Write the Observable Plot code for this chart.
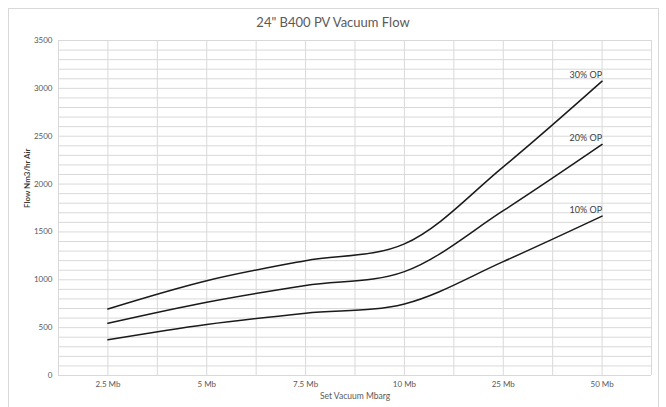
<!DOCTYPE html>
<html>
<head>
<meta charset="utf-8">
<script src="https://cdn.jsdelivr.net/npm/d3@7"></script>
<script src="https://cdn.jsdelivr.net/npm/@observablehq/plot@0.6"></script>
<style>
  html, body { margin: 0; padding: 0; background: #fff; }
  #wrap { position: relative; width: 666px; height: 407px; font-family: Lato, "Open Sans", sans-serif; }
  #frame { position: absolute; left: 8px; top: 8px; width: 651px; height: 400px; border: 1px solid #d9d9d9; box-sizing: border-box; }
  #title { position: absolute; left: 0; width: 666px; top: 14px; text-align: center; font-size: 13px; color: #595959; }
  #chart { position: absolute; left: 0; top: 0; }
</style>
</head>
<body>
<div id="wrap">
  <div id="frame"></div>
  <div id="chart"></div>
  <div id="title">24" B400 PV Vacuum Flow</div>
</div>
<script>
const categories = ["2.5 Mb", "5 Mb", "7.5 Mb", "10 Mb", "25 Mb", "50 Mb"];
const seriesNames = ["30% OP", "20% OP", "10% OP"];
const op30 = [695, 990, 1200, 1375, 2180, 3075];
const op20 = [545, 765, 940, 1085, 1722, 2414];
const op10 = [373, 533, 651, 748, 1190, 1665];
const yTicks = [0, 500, 1000, 1500, 2000, 2500, 3000, 3500];
const yGrid = d3.range(0, 3501, 100);

const seriesValues = [op30, op20, op10];
const rows = [];
seriesNames.forEach((s, k) => {
  categories.forEach((c, i) => rows.push({series: s, cat: c, pos: i + 0.5, value: seriesValues[k][i]}));
});
const lastRows = rows.filter(d => d.cat === categories[categories.length - 1]);
const xCenters = categories.map((c, i) => i + 0.5);
const xGrid = d3.range(0, categories.length + 0.01, 0.5);

const chart = Plot.plot({
  width: 666,
  height: 407,
  marginTop: 40,
  marginBottom: 32,
  marginLeft: 58,
  marginRight: 15,
  style: {fontFamily: 'Lato, "Open Sans", sans-serif', background: "transparent"},
  x: {domain: [0, categories.length], axis: null},
  y: {domain: [0, 3500], axis: null},
  marks: [
    Plot.ruleY(yGrid, {stroke: "#d9d9d9", strokeWidth: 1}),
    Plot.ruleX(xGrid, {stroke: "#d9d9d9", strokeWidth: 1}),
    Plot.axisY(yTicks, {tickSize: 0, tickPadding: 6, fontSize: 8, fill: "#595959", label: null, tickFormat: d3.format("d")}),
    Plot.axisX(xCenters, {tickSize: 0, tickPadding: 6, fontSize: 8, fill: "#595959", label: null,
      tickFormat: d => categories[Math.round(d - 0.5)]}),
    Plot.line(rows, {x: "pos", y: "value", z: "series", curve: "catmull-rom", stroke: "#1a1a1a", strokeWidth: 1.5}),
    Plot.text(lastRows, {x: "pos", y: "value", text: "series", textAnchor: "end", lineAnchor: "bottom", dy: -3, fontSize: 9, fill: "#404040"}),
    Plot.text(["Set Vacuum Mbarg"], {frameAnchor: "bottom", dy: 23, fontSize: 8.5, fill: "#595959"}),
    Plot.text(["Flow Nm3/hr Air"], {frameAnchor: "left", dx: -31, rotate: -90, fontSize: 8, fill: "#333", fontWeight: 600})
  ]
});
document.getElementById("chart").appendChild(chart);
</script>
</body>
</html>
